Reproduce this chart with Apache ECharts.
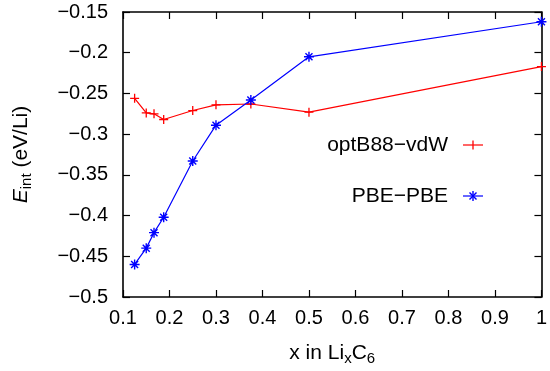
<!DOCTYPE html>
<html>
<head>
<meta charset="utf-8">
<script src="https://cdn.jsdelivr.net/npm/echarts@6/dist/echarts.min.js"></script>
<style>
  html, body { margin: 0; padding: 0; background: #fff; }
  #chart { width: 550px; height: 371px; }
</style>
</head>
<body>
<div id="chart"></div>
<script>
// Lithium fraction x in LixC6
const xValues = [0.125, 0.15, 0.1667, 0.1875, 0.25, 0.3, 0.375, 0.5, 1.0];
// Intercalation energy (eV/Li)
const optB88vdW = [-0.256, -0.274, -0.275, -0.282, -0.271, -0.264, -0.263, -0.273, -0.217];
const pbePbe = [-0.460, -0.440, -0.421, -0.402, -0.333, -0.289, -0.258, -0.205, -0.162];
const seriesNames = ['optB88\u2212vdW', 'PBE\u2212PBE'];

const FONT = '"Liberation Sans", Arial, Helvetica, sans-serif';
const RED = '#ff0000';
const BLUE = '#0000ff';
const PLUS = 'path://M0,5L10,5M5,0L5,10';
const STAR = 'path://M0,5L10,5M5,0L5,10M1.5,1.5L8.5,8.5M1.5,8.5L8.5,1.5';

const pairs = ys => xValues.map((x, i) => [x, ys[i]]);
const fmt = v => {
  const s = (+v.toFixed(2)).toString();
  return s.replace('-', '\u2212');
};

const chart = echarts.init(document.getElementById('chart'), null, { renderer: 'canvas' });

const axisCommon = {
  type: 'value',
  axisLine: { show: true, onZero: false, lineStyle: { color: '#000', width: 1.6 } },
  axisTick: { show: true, inside: true, length: 7, lineStyle: { color: '#000', width: 1.2 } },
  splitLine: { show: false }
};

const titleRich = {
  n: { fontFamily: FONT, fontSize: 21, color: '#000', lineHeight: 25 },
  e: { fontFamily: FONT, fontSize: 21, fontStyle: 'italic', color: '#000', lineHeight: 25 },
  s: { fontFamily: FONT, fontSize: 15, color: '#000', lineHeight: 13, verticalAlign: 'bottom' }
};

const lx = 463, rx = 483;
const legendY = [145, 196];

chart.setOption({
  animation: false,
  backgroundColor: '#fff',
  grid: { left: 123, right: 7, top: 12, bottom: 72 },
  xAxis: [
    Object.assign({}, axisCommon, {
      position: 'bottom', min: 0.1, max: 1.0, interval: 0.1,
      axisLabel: { color: '#000', fontFamily: FONT, fontSize: 20, margin: 11, formatter: fmt },
      name: '{n|x in Li}{s|x}{n|C}{s|6}',
      nameLocation: 'middle', nameGap: 44,
      nameTextStyle: { rich: titleRich }
    }),
    Object.assign({}, axisCommon, {
      position: 'top', min: 0.1, max: 1.0, interval: 0.1,
      axisLabel: { show: false }
    })
  ],
  yAxis: [
    Object.assign({}, axisCommon, {
      position: 'left', min: -0.5, max: -0.15, interval: 0.05,
      axisLabel: { color: '#000', fontFamily: FONT, fontSize: 20, margin: 15, formatter: fmt },
      name: '{e|E}{s|int}{n| (eV/Li)}',
      nameLocation: 'middle', nameGap: 89, nameRotate: 90,
      nameTextStyle: { rich: titleRich }
    }),
    Object.assign({}, axisCommon, {
      position: 'right', min: -0.5, max: -0.15, interval: 0.05,
      axisLabel: { show: false }
    })
  ],
  series: [
    {
      name: seriesNames[0], type: 'line', data: pairs(optB88vdW),
      symbol: PLUS, symbolSize: 9, showAllSymbol: true,
      lineStyle: { color: RED, width: 1.2 },
      itemStyle: { color: RED, borderColor: RED, borderWidth: 1.3 },
      emphasis: { disabled: true }, z: 3
    },
    {
      name: seriesNames[1], type: 'line', data: pairs(pbePbe),
      symbol: STAR, symbolSize: 10, showAllSymbol: true,
      lineStyle: { color: BLUE, width: 1.2 },
      itemStyle: { color: BLUE, borderColor: BLUE, borderWidth: 1.4 },
      emphasis: { disabled: true }, z: 4
    }
  ],
  graphic: [
    { type: 'text', x: 448, y: legendY[0],
      style: { text: seriesNames[0], fill: '#000', font: '21px ' + FONT, textAlign: 'right', textVerticalAlign: 'middle' } },
    { type: 'line', shape: { x1: lx, y1: legendY[0], x2: rx, y2: legendY[0] }, style: { stroke: RED, lineWidth: 1.2 } },
    { type: 'line', shape: { x1: 473, y1: legendY[0] - 4.5, x2: 473, y2: legendY[0] + 4.5 }, style: { stroke: RED, lineWidth: 1.3 } },
    { type: 'text', x: 448, y: legendY[1],
      style: { text: seriesNames[1], fill: '#000', font: '21px ' + FONT, textAlign: 'right', textVerticalAlign: 'middle' } },
    { type: 'line', shape: { x1: lx, y1: legendY[1], x2: rx, y2: legendY[1] }, style: { stroke: BLUE, lineWidth: 1.2 } },
    { type: 'line', shape: { x1: 473, y1: legendY[1] - 5, x2: 473, y2: legendY[1] + 5 }, style: { stroke: BLUE, lineWidth: 1.4 } },
    { type: 'line', shape: { x1: 469.5, y1: legendY[1] - 3.5, x2: 476.5, y2: legendY[1] + 3.5 }, style: { stroke: BLUE, lineWidth: 1.4 } },
    { type: 'line', shape: { x1: 469.5, y1: legendY[1] + 3.5, x2: 476.5, y2: legendY[1] - 3.5 }, style: { stroke: BLUE, lineWidth: 1.4 } }
  ]
});
</script>
</body>
</html>
